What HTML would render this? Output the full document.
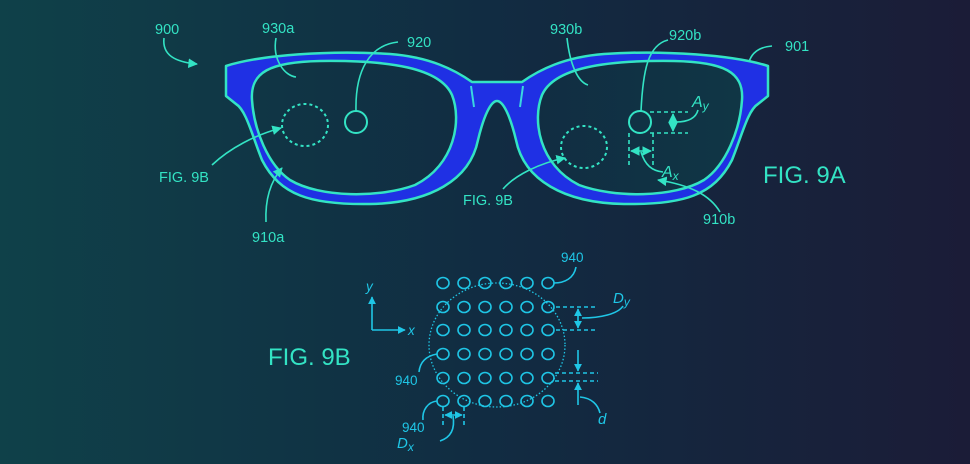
<!DOCTYPE html>
<html><head><meta charset="utf-8"><style>
html,body{margin:0;padding:0;width:970px;height:464px;overflow:hidden}
svg{display:block}
text{font-family:"Liberation Sans",sans-serif}
</style></head><body>
<svg width="970" height="464" viewBox="0 0 970 464" xmlns="http://www.w3.org/2000/svg">
<defs>
<linearGradient id="bg" gradientUnits="userSpaceOnUse" x1="0" y1="0" x2="970" y2="0">
<stop offset="0" stop-color="#0f4149"/><stop offset="0.5" stop-color="#112c42"/><stop offset="1" stop-color="#1b1c37"/>
</linearGradient>
<marker id="ag" viewBox="0 0 10 10" refX="9" refY="5" markerWidth="6" markerHeight="6" orient="auto-start-reverse"><path d="M0 0L10 5L0 10z" fill="#33e3c4"/></marker>
<marker id="ac" viewBox="0 0 10 10" refX="9" refY="5" markerWidth="5" markerHeight="5" orient="auto-start-reverse"><path d="M0 0L10 5L0 10z" fill="#1fc6e6"/></marker>
<g id="inner"><path d="M252 100 C250 72 270 62 320 61 C390 60 440 68 452 95 C462 120 455 165 415 185 C380 198 320 198 290 180 C268 165 254 130 252 100 Z"/></g>
</defs>
<rect width="970" height="464" fill="url(#bg)"/>
<path d="M226 66 C260 55 330 50 390 54 C430 57 455 70 472 82 L522 82 C539 70 564 57 604 54 C664 50 734 55 768 66 L768 96 L758 104 C748 110 742 135 732 160 C714 195 684 205 624 204 C564 203 524 180 516 140 C510 115 503 101 497 101 C491 101 484 115 478 140 C470 180 430 203 370 204 C310 205 280 195 262 160 C252 135 246 110 236 104 L226 96 Z" fill="#1f30e4" stroke="#33e3c4" stroke-width="2.5" stroke-linejoin="round"/>
<g fill="url(#bg)" stroke="#33e3c4" stroke-width="2.5">
<use href="#inner"/><use href="#inner" transform="translate(994,0) scale(-1,1)"/>
</g>
<g stroke="#3ad6e0" stroke-width="2"><line x1="471" y1="86" x2="474" y2="107"/><line x1="523" y1="86" x2="520" y2="107"/></g>
<!-- top figure details -->
<g fill="none" stroke="#33e3c4" stroke-width="2">
<circle cx="356" cy="122" r="11"/>
<circle cx="640" cy="122" r="11"/>
<ellipse cx="305" cy="125" rx="23" ry="21" stroke-dasharray="3 3"/>
<ellipse cx="584" cy="147" rx="23" ry="21" stroke-dasharray="3 3"/>
<g stroke-width="1.6">
<path d="M356 111 C355 70 370 45 398 42"/>
<path d="M276 38 C272 60 285 76 296 77"/>
<path d="M164 38 C162 55 175 62 197 64" marker-end="url(#ag)"/>
<path d="M212 165 C230 148 255 135 281 128" marker-end="url(#ag)"/>
<path d="M266 222 C265 200 270 182 282 168" marker-end="url(#ag)"/>
<path d="M567 38 C570 65 578 82 588 85"/>
<path d="M641 111 C643 70 648 45 668 40"/>
<path d="M749 62 C752 52 760 47 772 46"/>
<path d="M503 189 C515 175 540 163 565 158" marker-end="url(#ag)"/>
<path d="M720 212 C710 195 690 185 658 180" marker-end="url(#ag)"/>
<path d="M650 112 H688 M650 133 H688 M629 133 V165 M653 133 V165" stroke-dasharray="4 3"/>
<path d="M673 114 V131" marker-start="url(#ag)" marker-end="url(#ag)"/>
<path d="M631 151 H651" marker-start="url(#ag)" marker-end="url(#ag)"/>
<path d="M676 122 C688 122 696 118 698 110"/>
<path d="M641 152 C645 165 652 171 663 172"/>
</g>
</g>
<g fill="#33e3c4" font-size="14.5">
<text x="155" y="34">900</text><text x="262" y="33">930a</text><text x="407" y="47">920</text>
<text x="550" y="34">930b</text><text x="669" y="40">920b</text><text x="785" y="51">901</text>
<text x="159" y="182">FIG. 9B</text><text x="463" y="205">FIG. 9B</text>
<text x="252" y="242">910a</text><text x="703" y="224">910b</text>
<text x="692" y="107" font-style="italic" font-size="16">A<tspan font-size="12" dy="3">y</tspan></text>
<text x="662" y="177" font-style="italic" font-size="16">A<tspan font-size="12" dy="3">x</tspan></text>
<text x="763" y="183" font-size="24">FIG. 9A</text>
<text x="268" y="365" font-size="24">FIG. 9B</text>
</g>
<!-- bottom figure -->
<g fill="none" stroke="#1fc6e6" stroke-width="1.6">
<ellipse cx="497" cy="345" rx="68" ry="62" stroke-dasharray="1.5 2" stroke-width="1.3"/>
<g id="row">
<ellipse cx="443" cy="283" rx="6" ry="5.5"/><ellipse cx="464" cy="283" rx="6" ry="5.5"/><ellipse cx="485" cy="283" rx="6" ry="5.5"/>
<ellipse cx="506" cy="283" rx="6" ry="5.5"/><ellipse cx="527" cy="283" rx="6" ry="5.5"/><ellipse cx="548" cy="283" rx="6" ry="5.5"/>
</g>
<use href="#row" y="24"/><use href="#row" y="47"/><use href="#row" y="71"/><use href="#row" y="95"/><use href="#row" y="118"/>
<path d="M372 330 V297" marker-end="url(#ac)"/>
<path d="M372 330 H405" marker-end="url(#ac)"/>
<path d="M556 307 H596 M556 330 H596 M555 373 H598 M555 381 H598 M443 407 V425 M464 407 V425" stroke-dasharray="4 3"/>
<path d="M578 309 V328" marker-start="url(#ac)" marker-end="url(#ac)"/>
<path d="M578 350 V371" marker-end="url(#ac)"/>
<path d="M578 405 V383" marker-end="url(#ac)"/>
<path d="M445 415 H462" marker-start="url(#ac)" marker-end="url(#ac)"/>
<path d="M554 283 C565 283 574 278 576 267"/>
<path d="M582 318 C600 318 618 314 623 306"/>
<path d="M580 397 C592 398 598 405 600 413"/>
<path d="M437 354 C426 356 420 362 419 372"/>
<path d="M437 401 C428 402 422 410 423 420"/>
<path d="M453 416 C455 428 452 437 440 441"/>
</g>
<g fill="#1fc6e6" font-size="13.5">
<text x="561" y="262">940</text><text x="395" y="385">940</text><text x="402" y="432">940</text>
<text x="366" y="291" font-style="italic">y</text><text x="408" y="335" font-style="italic">x</text>
<text x="613" y="303" font-style="italic" font-size="15">D<tspan font-size="12" dy="3">y</tspan></text>
<text x="598" y="424" font-style="italic" font-size="15">d</text>
<text x="397" y="448" font-style="italic" font-size="15">D<tspan font-size="12" dy="3">x</tspan></text>
</g>
</svg>
</body></html>
